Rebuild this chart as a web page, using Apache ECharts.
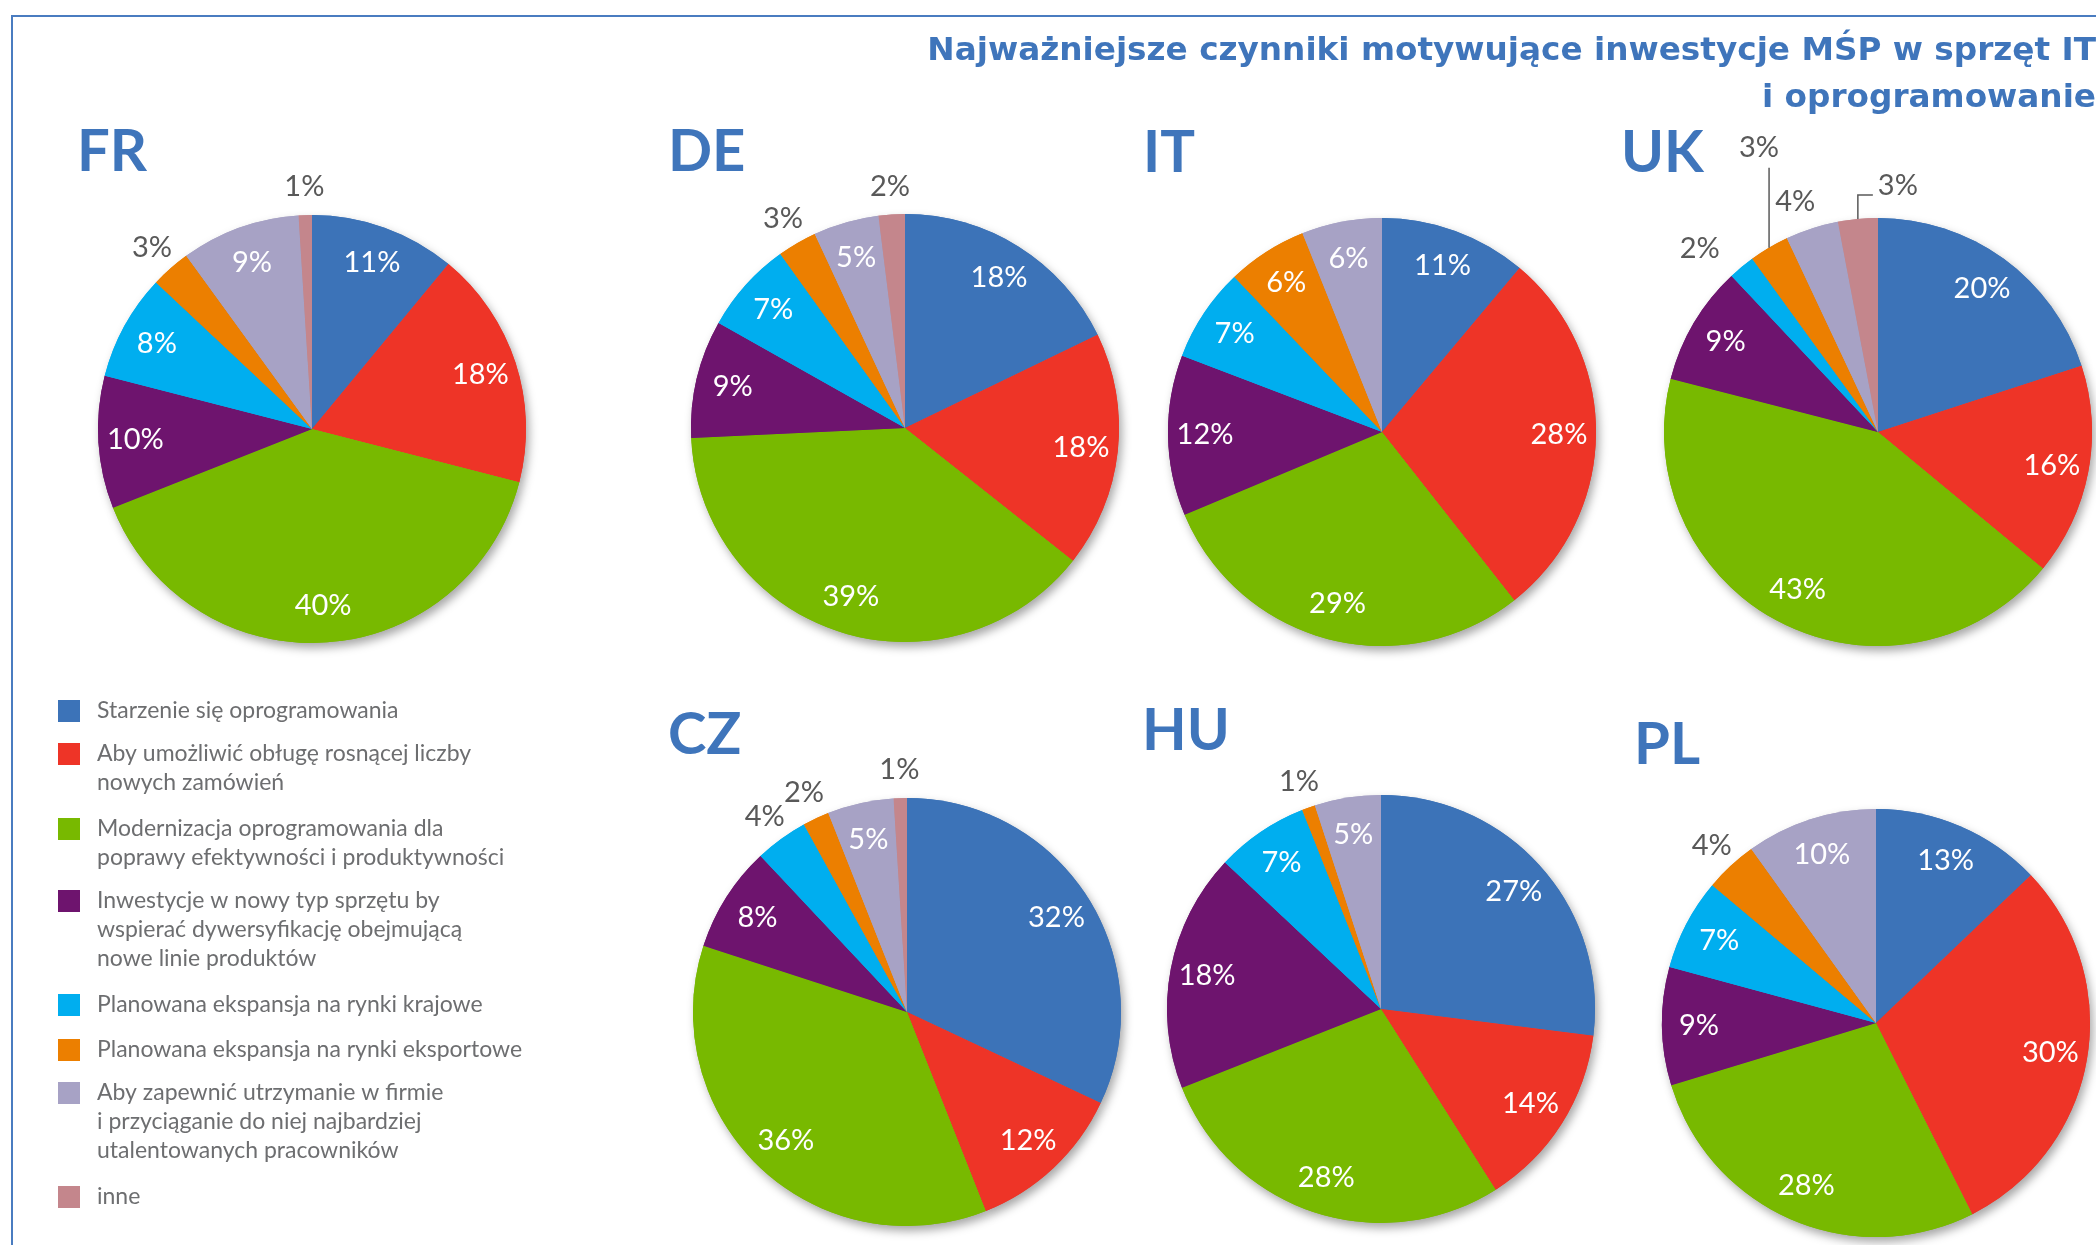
<!DOCTYPE html>
<html>
<head>
<meta charset="utf-8">
<title>Najważniejsze czynniki motywujące inwestycje MŚP</title>
<script src="https://cdn.jsdelivr.net/npm/echarts@6/dist/echarts.min.js"></script>
<style>
  html, body { margin: 0; padding: 0; background: #fff; }
  #chart { width: 2096px; height: 1245px; }
</style>
</head>
<body>
<div id="chart"></div>
<script>
// kategorie (kolejność zgodna z legendą i z ruchem wskazówek zegara od godz. 12)
const categories = [
  "Starzenie się oprogramowania",
  "Aby umożliwić obługę rosnącej liczby\nnowych zamówień",
  "Modernizacja oprogramowania dla\npoprawy efektywności i produktywności",
  "Inwestycje w nowy typ sprzętu by\nwspierać dywersyfikację obejmującą\nnowe linie produktów",
  "Planowana ekspansja na rynki krajowe",
  "Planowana ekspansja na rynki eksportowe",
  "Aby zapewnić utrzymanie w firmie\ni przyciąganie do niej najbardziej\nutalentowanych pracowników",
  "inne"
];
const colors = ["#3c73b8", "#ee3427", "#78b900", "#6e146e", "#00aeef", "#ec7f00", "#a7a2c5", "#c4868c"];

const countries = ["FR", "DE", "IT", "UK", "CZ", "HU", "PL"];
const valuesFR = [11, 18, 40, 10, 8, 3, 9, 1];
const valuesDE = [18, 18, 39, 9, 7, 3, 5, 2];
const valuesIT = [11, 28, 29, 12, 7, 6, 6, 0];
const valuesUK = [20, 16, 43, 9, 2, 3, 4, 3];
const valuesCZ = [32, 12, 36, 8, 4, 2, 5, 1];
const valuesHU = [27, 14, 28, 18, 7, 1, 5, 0];
const valuesPL = [13, 30, 28, 9, 7, 4, 10, 0];
const seriesValues = { FR: valuesFR, DE: valuesDE, IT: valuesIT, UK: valuesUK, CZ: valuesCZ, HU: valuesHU, PL: valuesPL };

// układ
const R = 214;
const LABEL_R0 = 134;      // pierścień pomocniczy -> etykiety w ~0.81 promienia
const OUTSIDE_MAX = 4;     // małe wycinki mają etykietę na zewnątrz
const pieCenters = {
  FR: [312, 429], DE: [905, 428], IT: [1382, 432], UK: [1878, 432],
  CZ: [907, 1012], HU: [1381, 1009], PL: [1876, 1023]
};
const countryLabelPos = {
  FR: [77, 123], DE: [668, 123], IT: [1143, 124], UK: [1621, 124],
  CZ: [668, 706], HU: [1142, 702], PL: [1634, 716]
};
const legendRowCenters = [711, 754, 829, 901, 1005, 1050, 1093, 1197];
const LEGEND_LH = 29;

// poprawki etykiet zewnętrznych (UK ma linie odniesienia)
const labelTweaks = {
  UK: {
    4: { dx: -24, dy: 3 },
    5: { line: true, rise: 80, dx: -10, dy: -100 },
    6: { dx: -8, dy: 0 },
    7: { line: true, rise: 24, run: 15, dx: 20, dy: -33, align: "left" }
  }
};

const blue = "#3f75bb";
const grayText = "#595959";

let chart = echarts.init(document.getElementById("chart"));

let series = [];
countries.forEach((c) => {
  let vals = seriesValues[c];
  let tw = labelTweaks[c] || {};
  let common = {
    type: "pie",
    center: pieCenters[c],
    startAngle: 90,
    clockwise: true,
    avoidLabelOverlap: false,
    silent: true,
    emphasis: { disabled: true },
    labelLine: { show: false }
  };
  let data = vals.map((v, i) => ({ name: categories[i], value: v }));

  // wypełnienie
  series.push(Object.assign({}, common, {
    name: c, z: 2, radius: [0, R],
    label: { show: false },
    itemStyle: { borderWidth: 0 },
    data: data
  }));
  // cień pod kołem
  series.push(Object.assign({}, common, {
    name: c + " cień", z: 1, radius: [0, R],
    label: { show: false },
    itemStyle: {
      borderWidth: 0, shadowBlur: 10, shadowOffsetX: 3, shadowOffsetY: 5,
      shadowColor: "rgba(0,0,0,0.35)"
    },
    data: data
  }));
  // etykiety procentowe
  series.push(Object.assign({}, common, {
    name: c + " etykiety", z: 3, radius: [LABEL_R0, R],
    itemStyle: { color: "rgba(0,0,0,0)", borderWidth: 0 },
    label: {
      show: true, position: "inside", formatter: "{c}%",
      color: "#fff", fontFamily: "Lato", fontSize: 29,
      distanceToLabelLine: 0
    },
    labelLine: { show: false, length: 28, length2: 0, lineStyle: { color: grayText, width: 1.5 } },
    data: vals.map((v, i) => {
      let item = { name: categories[i], value: v };
      if (v === 0) {
        item.label = { show: false };
      } else if (v <= OUTSIDE_MAX) {
        item.label = { position: "outside", color: grayText };
        item.labelLine = { show: !!(tw[i] && tw[i].line) };
      }
      return item;
    }),
    labelLayout: function (p) {
      let v = vals[p.dataIndex];
      if (!(v > 0 && v <= OUTSIDE_MAX)) return {};
      let t = tw[p.dataIndex] || {};
      let pts = p.labelLinePoints;
      if (t.line && pts) {
        let p0 = pts[0];
        let up = [p0[0], p0[1] - t.rise];
        let linePts = t.run ? [p0, up, [up[0] + t.run, up[1]]] : [p0, up];
        return {
          x: p0[0] + t.dx, y: p0[1] + t.dy,
          align: t.align || "center", verticalAlign: "middle",
          labelLinePoints: linePts
        };
      }
      let r = p.labelRect;
      let ax = p.align === "right" ? r.x + r.width : (p.align === "left" ? r.x : r.x + r.width / 2);
      let ay = r.y + r.height / 2;
      return { x: ax + (t.dx || 0), y: ay + (t.dy || 0), align: "center", verticalAlign: "middle" };
    }
  }));
});

let titles = [{
  text: "Najważniejsze czynniki motywujące inwestycje MŚP w sprzęt IT\ni oprogramowanie",
  left: "right", top: 28, padding: 0,
  textStyle: { fontFamily: "DejaVu Sans", fontWeight: "bold", fontSize: 32.7, lineHeight: 47, color: blue }
}];
countries.forEach((c) => {
  titles.push({
    text: c, left: countryLabelPos[c][0], top: countryLabelPos[c][1], padding: 0,
    textStyle: { fontFamily: "Lato", fontWeight: "bold", fontSize: 58, color: blue }
  });
});

let legends = categories.map((name, i) => {
  let n = name.split("\n").length;
  return {
    data: [name],
    orient: "vertical",
    left: 58,
    top: legendRowCenters[i] - (2 * n - 1) * LEGEND_LH / 2,
    padding: 0,
    itemWidth: 22, itemHeight: 22, icon: "rect",
    selectedMode: false,
    formatter: (nm) => "\n".repeat(n - 1) + nm,
    textStyle: {
      fontFamily: "Lato", fontSize: 23, lineHeight: LEGEND_LH,
      color: "#6d6e70", padding: [0, 0, 0, 12]
    }
  };
});

let option = {
  animation: false,
  backgroundColor: "#fff",
  color: colors,
  title: titles,
  legend: legends,
  graphic: [{
    type: "rect", silent: true, z: 0,
    shape: { x: 12, y: 16, width: 2400, height: 1500 },
    style: { fill: "none", stroke: "#4a7cc0", lineWidth: 2 }
  }],
  series: series
};

chart.setOption(option);
window.addEventListener("resize", () => {
  chart.resize();
});
</script>
</body>
</html>
